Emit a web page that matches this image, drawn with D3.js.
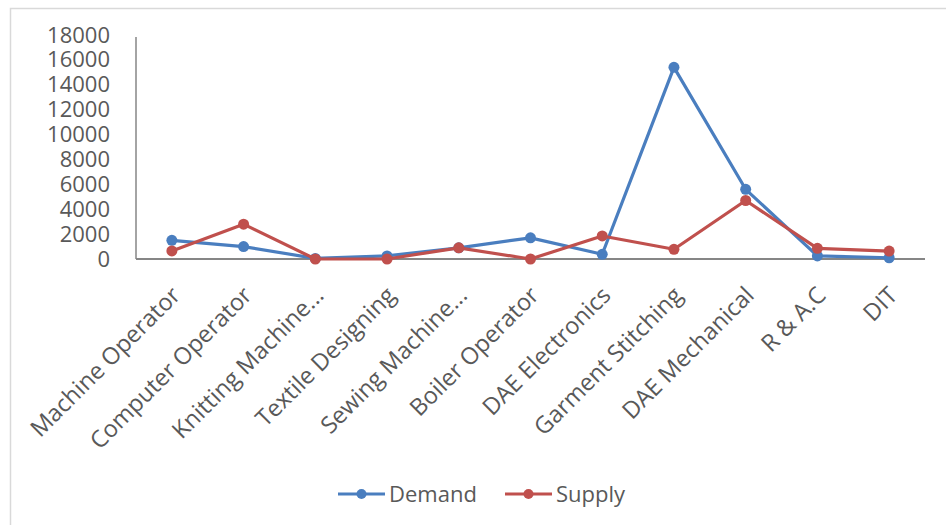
<!DOCTYPE html>
<html>
<head>
<meta charset="utf-8">
<script src="https://cdn.jsdelivr.net/npm/d3@7"></script>
<style>
  html, body { margin: 0; padding: 0; background: #fff; }
  svg { display: block; }
  text { font-family: "Open Sans", sans-serif; fill: #595959; }
</style>
</head>
<body>
<svg id="chart" width="946" height="525"></svg>
<script>
// Trades and their workforce demand / supply figures
const categories = [
  "Machine Operator", "Computer Operator", "Knitting Machine...", "Textile Designing",
  "Sewing Machine...", "Boiler Operator", "DAE Electronics", "Garment Stitching",
  "DAE Mechanical", "R & A.C", "DIT"
];
const demand = [1500, 1000, 50, 250, 900, 1700, 380, 15400, 5600, 250, 100];
const supply = [650, 2800, 0, 0, 900, 0, 1850, 780, 4700, 860, 640];
const yTicks = [0, 2000, 4000, 6000, 8000, 10000, 12000, 14000, 16000, 18000];
const seriesNames = ["Demand", "Supply"];
const seriesColors = ["#4a7ebf", "#c0504d"];

const svg = d3.select("#chart");

// Chart area frame (open to the right and bottom edges)
svg.append("rect")
  .attr("x", 10.5).attr("y", 8.5)
  .attr("width", 960).attr("height", 540)
  .attr("fill", "#fff")
  .attr("stroke", "#d9d9d9").attr("stroke-width", 1.5);

const plot = { left: 136, right: 925, top: 35, bottom: 259 };

const x = d3.scalePoint()
  .domain(categories)
  .range([plot.left, plot.right])
  .padding(0.5);

const y = d3.scaleLinear()
  .domain([0, 18000])
  .range([plot.bottom, plot.top]);

// Y axis
const yAxis = svg.append("g")
  .attr("transform", `translate(${plot.left},0)`)
  .call(d3.axisLeft(y).tickValues(yTicks).tickSize(0).tickPadding(26).tickFormat(d3.format("d")));
yAxis.select(".domain").attr("stroke", "#868686").attr("stroke-width", 1.5)
  .attr("d", `M0,${plot.top + 2}V${plot.bottom}`);
yAxis.selectAll("text")
  .style("font-size", "22px").attr("fill", "#595959");

// X axis
const xAxis = svg.append("g")
  .attr("transform", `translate(0,${plot.bottom})`)
  .call(d3.axisBottom(x).tickSize(0).tickFormat(""));
xAxis.select(".domain").attr("stroke", "#868686").attr("stroke-width", 2)
  .attr("d", `M${plot.left},0H${plot.right}`);

// Rotated category labels
svg.append("g").selectAll("text")
  .data(categories)
  .join("text")
  .attr("transform", d => `translate(${x(d) + 4},${plot.bottom + 32}) rotate(-45)`)
  .attr("text-anchor", "end")
  .attr("dy", "0.35em")
  .style("font-size", "23.5px")
  .text(d => d);

// Lines and markers
const line = d3.line()
  .x((d, i) => x(categories[i]))
  .y(d => y(d));

[demand, supply].forEach((values, s) => {
  const g = svg.append("g");
  g.append("path")
    .datum(values)
    .attr("fill", "none")
    .attr("stroke", seriesColors[s])
    .attr("stroke-width", 3.2)
    .attr("stroke-linejoin", "round")
    .attr("d", line);
  g.selectAll("circle")
    .data(values)
    .join("circle")
    .attr("cx", (d, i) => x(categories[i]))
    .attr("cy", d => y(d))
    .attr("r", 5.5)
    .attr("fill", seriesColors[s]);
});

// Legend
const legendX = [338, 505];
const legendY = 494;
const legend = svg.append("g");
seriesNames.forEach((name, s) => {
  const lg = legend.append("g").attr("transform", `translate(${legendX[s]},${legendY})`);
  lg.append("line")
    .attr("x1", 0).attr("x2", 47).attr("y1", 0).attr("y2", 0)
    .attr("stroke", seriesColors[s]).attr("stroke-width", 3.2);
  lg.append("circle").attr("cx", 23.5).attr("cy", 0).attr("r", 5).attr("fill", seriesColors[s]);
  lg.append("text")
    .attr("x", 51).attr("y", 0).attr("dy", "0.35em")
    .style("font-size", "22px")
    .text(name);
});
</script>
</body>
</html>
